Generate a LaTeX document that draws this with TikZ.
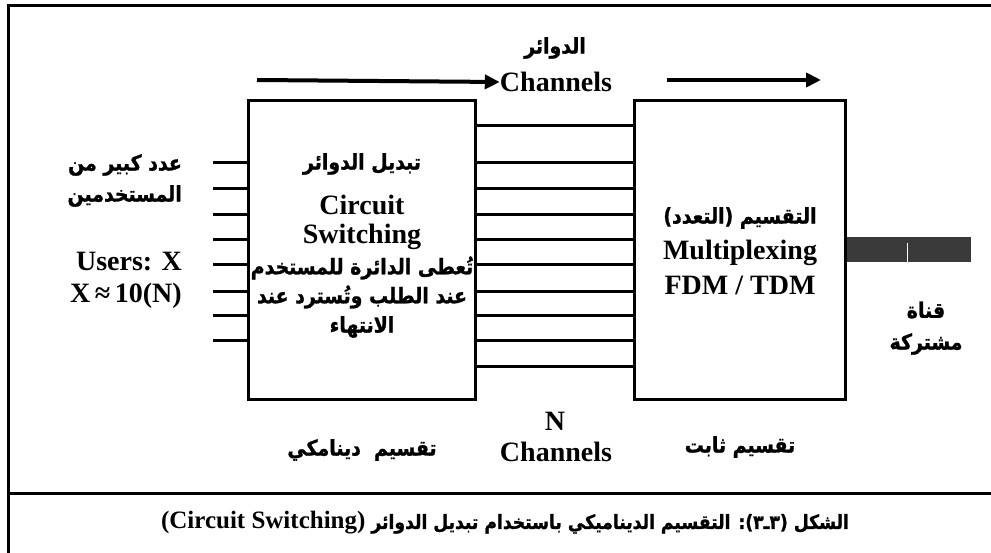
\documentclass[tikz,border=0pt]{standalone}
\usepackage{fontspec}
\setmainfont{Liberation Serif}
\newfontfamily\latinfont{Liberation Serif}
\newfontfamily\arabicfont[Script=Arabic, BoldFont={DejaVu Sans Bold}, BoldFeatures={FakeBold=1.2}, FakeStretch=0.88]{DejaVu Sans}
\TeXXeTstate=1
\usetikzlibrary{arrows.meta}
\definecolor{bargray}{HTML}{3A3A3A}
\begin{document}
\begin{tikzpicture}[x=1pt,y=-1pt,
  lat/.style={font=\fontsize{28}{30}\selectfont\latinfont\bfseries, inner sep=0pt},
  ar/.style={font=\fontsize{21.5}{24}\selectfont\arabicfont\bfseries, inner sep=0pt},
  box/.style={draw, line width=3pt, inner sep=0pt},
  wire/.style={line width=3pt},
  frame/.style={line width=3pt},
  arr/.style={line width=4pt, -{Triangle[length=15pt,width=14pt]}}]
\useasboundingbox (0,0) rectangle (991,553);
% frame
\coordinate (f1) at (8,553);
\coordinate (f2) at (8,6);
\coordinate (f3) at (991,6);
\coordinate (s1) at (8,493);
\coordinate (s2) at (991,493);
\draw[frame] (f1) -- (f2) -- (f3);
\draw[frame] (s1) -- (s2);
% boxes
\node[box, minimum width=227pt, minimum height=298pt] (csw) at (361.5,250) {};
\node[box, minimum width=211pt, minimum height=298pt] (mux) at (739.5,250) {};
% user lines
\foreach \y [count=\i] in {163,189,215,240,265,292,316,341} {
  \coordinate (u\i) at (213,\y);
  \draw[wire] (u\i) -- (u\i -| csw.west);
}
% channel lines
\foreach \y [count=\i] in {126,163,189,215,240,265,292,316,341,367} {
  \coordinate (m\i) at (555,\y);
  \draw[wire] (m\i -| csw.east) -- (m\i -| mux.west);
}
% shared channel bar
\node[fill=bargray, minimum width=124pt, minimum height=25pt, inner sep=0pt, anchor=west] (bar) at (mux.east) {};
\coordinate (w1) at (907,243);
\coordinate (w2) at (907,263);
\draw[white, line width=1pt] (w1) -- (w2);
% top labels and arrows
\node[ar] (dw) at (555,48) {\beginR الدوائر\endR};
\node[lat] (ch1) at (556,82) {Channels};
\coordinate (a1) at (257,80);
\draw[arr] (a1) -- (ch1.west);
\coordinate (a2) at (667,80);
\coordinate (a3) at (821,80);
\draw[arr] (a2) -- (a3);
% left labels
\node[ar, anchor=east] (l1) at (182,165) {\beginR عدد كبير من\endR};
\node[ar, anchor=east] (l2) at (182,196) {\beginR المستخدمين\endR};
\node[lat, anchor=east] (l3) at (182,262) {Users: X};
\node[lat, anchor=east] (l4) at (182,296) {X\,≈\,10(N)};
% left box text
\node[ar] (c1) at (362,164) {\beginR تبديل الدوائر\endR};
\node[lat] (c2) at (362,205) {Circuit};
\node[lat] (c3) at (362,237) {Switching};
\node[ar] (c4) at (362,268) {\beginR تُعطى الدائرة للمستخدم\endR};
\node[ar] (c5) at (362,297) {\beginR عند الطلب وتُسترد عند\endR};
\node[ar] (c6) at (362,327) {\beginR الانتهاء\endR};
% right box text
\node[ar] (x1) at (740,218) {\beginR التقسيم (التعدد)\endR};
\node[lat] (x2) at (740,253) {Multiplexing};
\node[lat] (x3) at (740,285) {FDM / TDM};
% shared channel label
\node[ar] (q1) at (926,310) {\beginR قناة\endR};
\node[ar] (q2) at (926,344) {\beginR مشتركة\endR};
% bottom labels
\node[lat] (n1) at (555,421) {N};
\node[lat] (ch2) at (556,452) {Channels};
\node[ar] (b1) at (362,450) {\beginR تقسيم\ \ دينامكي\endR};
\node[ar] (b2) at (740,447) {\beginR تقسيم ثابت\endR};
% caption
\node[inner sep=0pt, font=\fontsize{19.5}{22}\selectfont\arabicfont\bfseries] (cap) at (505,523)
  {\beginR الشكل (٣ـ٣): التقسيم الديناميكي باستخدام تبديل الدوائر {\fontsize{25}{28}\selectfont\latinfont\bfseries\beginL(Circuit Switching)\endL}\endR};
\end{tikzpicture}
\end{document}
